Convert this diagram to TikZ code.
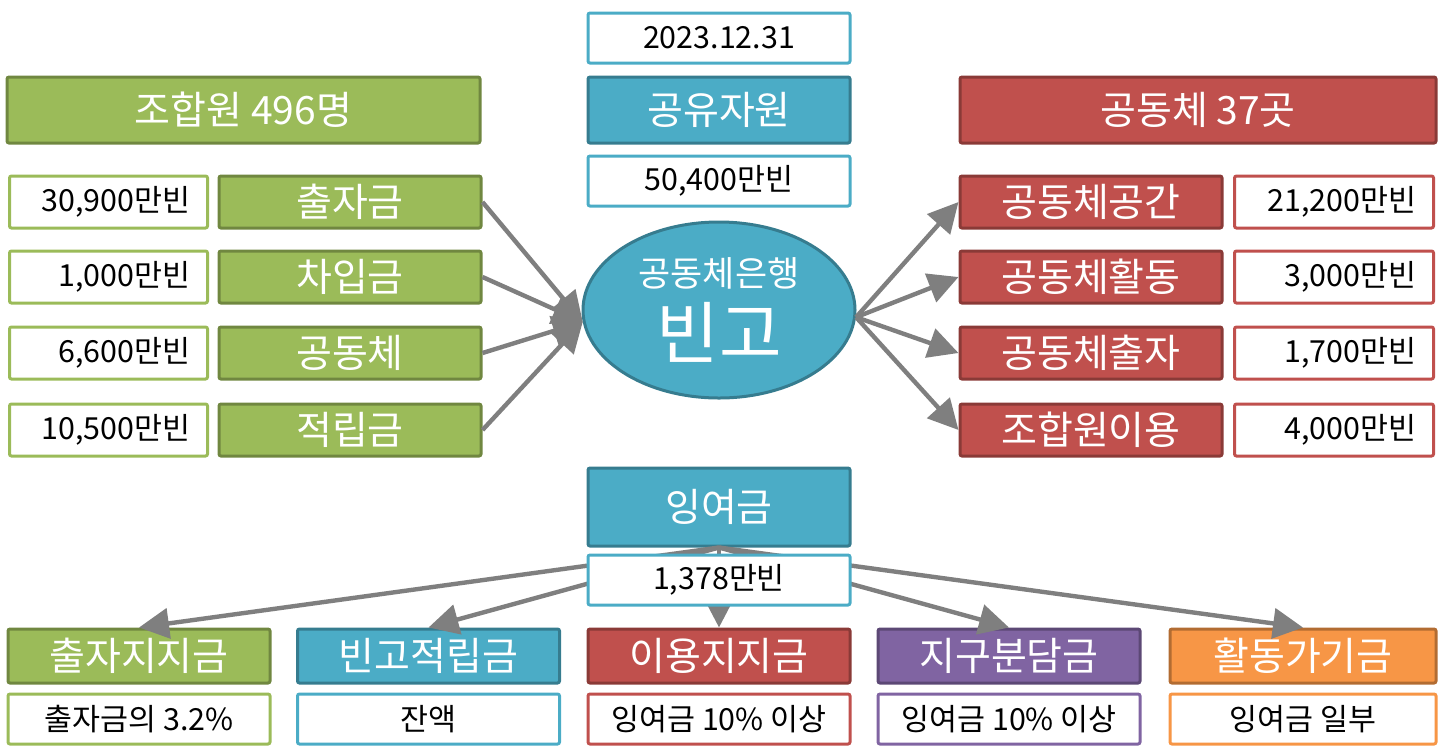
\documentclass[tikz,border=0pt]{standalone}
\usepackage{fontspec}
\setmainfont{Noto Sans CJK KR}
\usetikzlibrary{arrows.meta,shapes.geometric}

\definecolor{bingreen}{HTML}{9BBB59}
\definecolor{bincyan}{HTML}{4BACC6}
\definecolor{binred}{HTML}{C0504D}
\definecolor{binpurple}{HTML}{8064A2}
\definecolor{binorange}{HTML}{F79646}
\definecolor{bingray}{HTML}{7F7F7F}

\tikzset{
  head/.style={draw=#1!72!black, fill=#1, text=white, line width=1.5pt,
    rounded corners=1pt, minimum width=131pt, minimum height=26pt,
    inner sep=0pt, font=\fontsize{19.5}{22}\selectfont},
  amount/.style={draw=#1, fill=white, line width=1.5pt, rounded corners=1pt,
    text width=82pt, align=right, inner xsep=8.5pt, inner ysep=0pt,
    minimum height=26pt},
  note/.style={draw=#1, fill=white, line width=1.5pt, rounded corners=1pt,
    minimum width=131pt, minimum height=25pt, inner sep=0pt},
  flow/.style={draw=bingray, line width=2.2pt, -{Triangle[length=15pt,width=15pt]}},
}

\begin{document}
\begin{tikzpicture}[x=0.5pt,y=-0.5pt]
\tikzstyle{every node}=[font=\fontsize{15.2}{17}\selectfont]
\useasboundingbox (0,0) rectangle (1444,745);

% centre column
\node[note=bincyan] (date) at (719,38) {2023.12.31};
\node[head=bincyan, minimum height=33pt] (pool) at (719,110) {공유자원};
\node[note=bincyan] (poolsum) at (719,181) {50,400만빈};
\node[ellipse, draw=bincyan!72!black, fill=bincyan, line width=1.5pt,
  minimum width=136pt, minimum height=88pt, inner sep=0pt, text=white,
  align=center, font=\fontsize{34}{36}\selectfont] (bank) at (719,310)
  {{\fontsize{17.5}{19}\selectfont 공동체은행}\\빈고};

% members side
\node[head=bingreen, minimum width=236.5pt, minimum height=33pt] (members) at (243.5,110) {조합원 496명};
\node[head=bingreen] (capital) at (350,202) {출자금};
\node[head=bingreen] (loan) at (350,277) {차입금};
\node[head=bingreen] (groupin) at (350,353) {공동체};
\node[head=bingreen] (reserve) at (350,430) {적립금};
\node[amount=bingreen] (capitalsum) at (108.5,202) {30,900만빈};
\node[amount=bingreen] (loansum) at (108.5,277) {1,000만빈};
\node[amount=bingreen] (groupinsum) at (108.5,353) {6,600만빈};
\node[amount=bingreen] (reservesum) at (108.5,430) {10,500만빈};

% groups side
\node[head=binred, minimum width=238pt, minimum height=33pt] (groups) at (1198,110) {공동체 37곳};
\node[head=binred] (space) at (1091,202) {공동체공간};
\node[head=binred] (activity) at (1091,277) {공동체활동};
\node[head=binred] (invest) at (1091,353) {공동체출자};
\node[head=binred] (use) at (1091,430) {조합원이용};
\node[amount=binred, text width=82.5pt] (spacesum) at (1334,202) {21,200만빈};
\node[amount=binred, text width=82.5pt] (activitysum) at (1334,277) {3,000만빈};
\node[amount=binred, text width=82.5pt] (investsum) at (1334,353) {1,700만빈};
\node[amount=binred, text width=82.5pt] (usesum) at (1334,430) {4,000만빈};

\draw[flow] (capital.east) -- (bank.185);
\draw[flow] (loan.east) -- (bank.185);
\draw[flow] (groupin.east) -- (bank.185);
\draw[flow] (reserve.east) -- (bank.185);
\draw[flow] (bank.357) -- (space.west);
\draw[flow] (bank.357) -- (activity.west);
\draw[flow] (bank.357) -- (invest.west);
\draw[flow] (bank.357) -- (use.west);

% surplus
\node[head=bincyan, minimum height=39pt] (surplus) at (719,507) {잉여금};
\node[head=bingreen, minimum height=27pt] (pay1) at (139,656) {출자지지금};
\node[head=bincyan, minimum height=27pt] (pay2) at (428.5,656) {빈고적립금};
\node[head=binred, minimum height=27pt] (pay3) at (719,656) {이용지지금};
\node[head=binpurple, minimum height=27pt] (pay4) at (1009,656) {지구분담금};
\node[head=binorange, minimum width=133pt, minimum height=27pt] (pay5) at (1303,656) {활동가기금};
\node[note=bingreen] (rule1) at (139,719) {출자금의 3.2\%};
\node[note=bincyan] (rule2) at (428.5,719) {잔액};
\node[note=binred] (rule3) at (719,719) {잉여금 10\% 이상};
\node[note=binpurple] (rule4) at (1009,719) {잉여금 10\% 이상};
\node[note=binorange, minimum width=133pt] (rule5) at (1303,719) {잉여금 일부};

\draw[flow] (surplus.south) -- (pay1.north);
\draw[flow] (surplus.south) -- (pay2.north);
\draw[flow] (surplus.south) -- (pay3.north);
\draw[flow] (surplus.south) -- (pay4.north);
\draw[flow] (surplus.south) -- (pay5.north);
\node[note=bincyan] (surplussum) at (719,580) {1,378만빈};
\end{tikzpicture}
\end{document}
